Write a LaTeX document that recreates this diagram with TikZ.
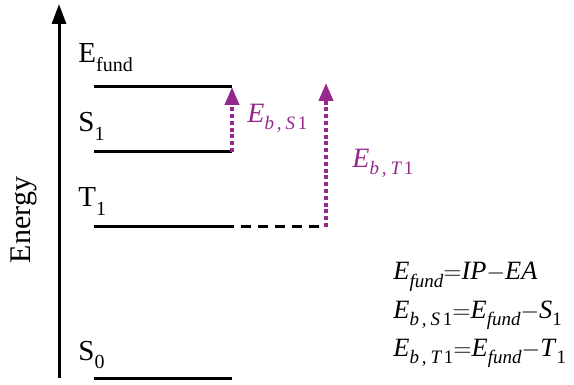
\documentclass[tikz,border=0pt]{standalone}
\usepackage{fontspec}
\setmainfont{Liberation Serif}
\usetikzlibrary{arrows.meta}
\definecolor{bindpurple}{RGB}{150,40,140}
% lowered subscripts, as in the drawing
\newcommand{\lowsub}[1]{\raisebox{-4.5pt}{\fontsize{10}{10}\selectfont #1}}
\newcommand{\itsub}[1]{\raisebox{-3.5pt}{\fontsize{9.5}{10}\selectfont\itshape #1}}
\newcommand{\bsub}[1]{\itsub{b\hspace{1.4pt},\hspace{2pt}#1\hspace{1.4pt}\upshape 1}}
\tikzset{
  axis/.style={-{Triangle[length=10pt,width=7pt]}, line width=1.5pt},
  level/.style={line width=1.5pt},
  dashed level/.style={line width=1.5pt, dash pattern=on 5pt off 3.5pt},
  binding/.style={-{Triangle[length=9pt,width=7pt]}, line width=2pt, bindpurple,
    dash pattern=on 2pt off 1.4pt},
  state label/.style={anchor=base west, inner sep=0pt, font=\fontsize{14.5}{16}\selectfont},
  energy label/.style={anchor=base west, inner sep=0pt, text=bindpurple,
    font=\fontsize{14}{16}\selectfont},
  eqn/.style={anchor=base west, inner sep=0pt, font=\fontsize{13.2}{16}\selectfont},
}

\begin{document}
\begin{tikzpicture}[x=0.5pt, y=-0.5pt]
  \useasboundingbox (0,0) rectangle (574,385);

  % Axis
  \coordinate (axisbot) at (59,378);
  \coordinate (axistop) at (59,4);
  \draw[axis] (axisbot) -- (axistop);
  \node[rotate=90, font=\fontsize{15}{17}\selectfont] (energy) at (24,220) {Energy};

  % Levels
  \coordinate (fundL) at (94,87);   \coordinate (fundR) at (232,87);
  \coordinate (s1L) at (94,152);    \coordinate (s1R) at (232,152);
  \coordinate (t1L) at (94,227);    \coordinate (t1R) at (232,227);
  \coordinate (s0L) at (94,379);    \coordinate (s0R) at (232,379);
  \coordinate (t1dash) at (190,227);
  \coordinate (t1end) at (326,227);
  \coordinate (t1top) at (326,83);
  \draw[level] (fundL) -- (fundR);
  \draw[level] (s1L) -- (s1R);
  \draw[level] (t1L) -- (t1R);
  \draw[level] (s0L) -- (s0R);
  \draw[dashed level] (t1dash) -- (t1end);

  \node[state label] (fund) at (78,63) {E\lowsub{fund}};
  \node[state label] (s1) at (78,132) {S\lowsub{1}};
  \node[state label] (t1) at (78,207) {T\lowsub{1}};
  \node[state label] (s0) at (78,360) {S\lowsub{0}};

  % Binding energies
  \draw[binding] (s1R) -- (fundR);
  \draw[binding] (t1end) -- (t1top);
  \node[energy label] (ebs1) at (247,123) {\textit{E}\bsub{S}};
  \node[energy label] (ebt1) at (352,168) {\textit{E}\bsub{T}};

  % Relations
  \node[eqn] (eq1) at (393,280) {\textit{E}\itsub{fund}$=$\textit{IP}$-$\textit{EA}};
  \node[eqn] (eq2) at (393,319) {\textit{E}\bsub{S}$=$\textit{E}\itsub{fund}$-$\textit{S}\itsub{\upshape 1}};
  \node[eqn] (eq3) at (393,357) {\textit{E}\bsub{T}$=$\textit{E}\itsub{fund}$-$\textit{T}\itsub{\upshape 1}};
\end{tikzpicture}
\end{document}
